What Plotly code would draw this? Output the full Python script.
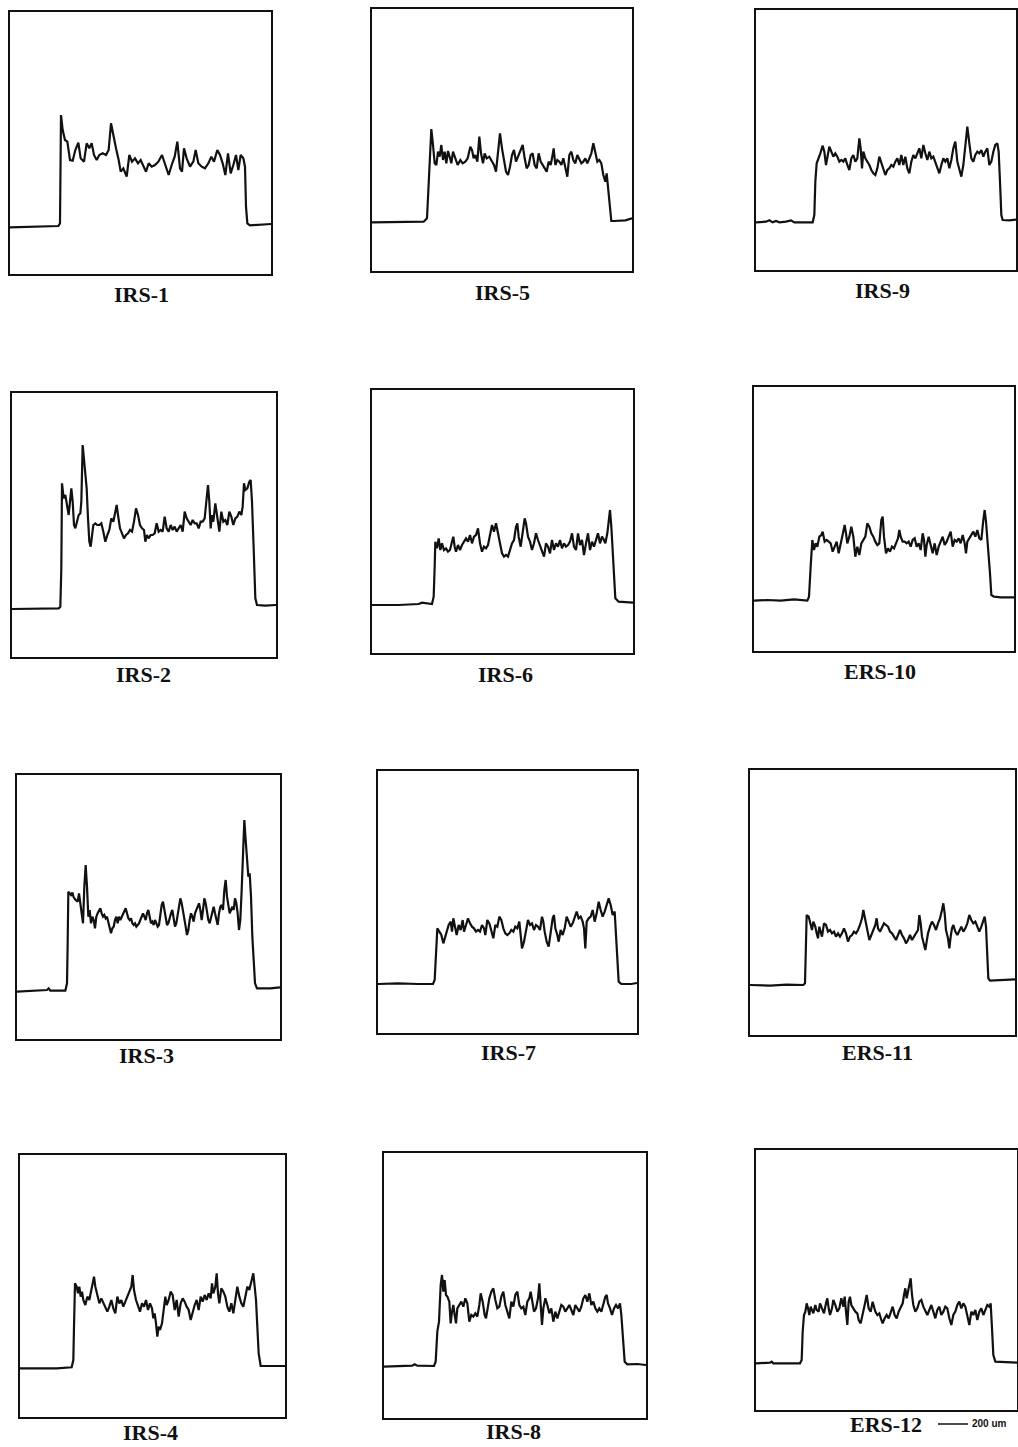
import plotly.graph_objects as go

# ---------------- data: scan profiles (position, intensity) in arbitrary units ----------------
IRS1 = [(0,140),(60,142),(145,144),(150,152),(152,322),(153,477),(158,432),(165,402),(172,397),(180,342),(188,340),(196,372),(205,394),(212,347),(222,337),(230,392),(238,377),(245,392),(252,357),(260,342),(268,357),(278,362),(288,357),(296,372),(303,452),(310,412),(318,377),(326,342),(332,307),(340,317),(350,292),(358,357),(366,337),(375,347),(384,332),(392,342),(400,322),(408,307),(416,332),(425,322),(435,327),(445,337),(456,357),(465,327),(476,297),(485,327),(494,352),(502,397),(510,317),(516,307),(522,377),(530,347),(540,322),(550,337),(557,372),(565,332),(575,322),(585,317),(595,332),(604,352),(612,337),(622,372),(630,357),(638,332),(646,297),(654,362),(662,302),(670,327),(678,357),(685,312),(692,357),(700,347),(705,322),(708,202),(712,152),(720,146),(783,150)]

IRS5 = [(0,146),(80,146),(155,148),(165,158),(168,218),(172,318),(178,426),(183,378),(188,323),(193,318),(198,358),(203,343),(208,378),(213,333),(218,358),(223,323),(228,360),(233,343),(238,323),(243,358),(250,338),(257,318),(265,333),(272,323),(280,328),(287,338),(295,373),(300,363),(305,338),(310,348),(316,328),(322,403),(327,353),(333,323),(338,353),(344,338),(352,343),(360,328),(366,318),(372,298),(378,358),(384,413),(390,368),(396,333),(402,298),(408,288),(414,313),(420,348),(426,363),(432,328),(440,348),(446,358),(452,378),(458,338),(464,308),(470,318),(476,348),(482,353),(488,318),(494,308),(500,353),(506,328),(512,318),(518,308),(524,298),(530,328),(536,318),(540,338),(545,368),(550,318),(556,333),(562,328),(568,318),(574,338),(580,313),(586,283),(592,348),(598,358),(604,333),(610,323),(616,348),(622,333),(628,323),(634,328),(640,338),(646,323),(652,338),(658,353),(664,383),(670,353),(676,328),(682,333),(688,323),(694,288),(700,268),(704,293),(708,253),(712,208),(718,150),(725,150),(760,152),(780,158)]

IRS9 = [(0,143),(30,145),(40,149),(50,143),(60,147),(70,143),(90,145),(105,149),(115,143),(170,143),(175,165),(178,265),(182,320),(188,335),(193,350),(200,373),(205,355),(210,315),(215,345),(220,370),(226,355),(232,340),(238,350),(244,340),(250,325),(256,330),(262,325),(268,335),(274,315),(280,300),(286,335),(292,345),(298,325),(304,335),(310,395),(314,365),(318,305),(322,355),(328,335),(334,325),(340,315),(346,300),(352,290),(358,285),(364,305),(370,340),(376,320),(382,305),(388,285),(394,300),(400,305),(406,315),(412,310),(418,325),(424,335),(430,315),(436,345),(442,315),(448,340),(454,305),(460,290),(466,325),(472,345),(478,335),(484,350),(490,365),(496,335),(502,375),(508,350),(514,330),(520,355),(526,335),(532,340),(538,325),(544,310),(550,290),(556,315),(562,335),(568,325),(574,335),(580,305),(586,330),(592,365),(598,385),(604,325),(610,305),(616,280),(622,315),(628,365),(634,430),(640,380),(646,335),(652,325),(658,345),(664,355),(670,350),(676,360),(682,340),(688,355),(694,365),(700,315),(706,325),(712,355),(718,375),(724,380),(728,355),(732,265),(736,165),(740,150),(760,149),(780,151)]

IRS2 = [(0,144),(80,146),(140,146),(145,151),(148,266),(150,521),(155,476),(160,486),(165,456),(170,426),(174,466),(178,506),(182,466),(186,396),(190,386),(195,411),(200,426),(205,431),(208,466),(212,636),(216,586),(220,536),(224,506),(228,416),(232,346),(236,331),(240,366),(244,396),(250,401),(256,396),(262,396),(268,401),(274,376),(280,346),(286,366),(292,381),(298,416),(304,406),(310,436),(314,456),(318,426),(324,386),(330,371),(336,356),(342,366),(348,371),(354,381),(360,376),(366,406),(372,446),(378,426),(384,396),(390,386),(396,381),(400,346),(405,366),(410,356),(416,366),(422,366),(428,371),(434,401),(440,376),(446,381),(452,376),(458,421),(464,386),(470,376),(476,396),(482,381),(488,391),(494,376),(500,386),(506,396),(512,376),(518,436),(524,416),(530,406),(536,396),(542,411),(548,401),(554,401),(560,386),(566,406),(572,406),(578,416),(584,466),(588,516),(592,466),(596,386),(600,426),(604,406),(610,461),(616,421),(622,376),(628,436),(634,406),(640,411),(646,396),(652,436),(658,421),(664,396),(670,416),(676,421),(682,436),(688,426),(692,451),(696,521),(700,501),(706,506),(712,526),(716,531),(720,466),(725,326),(730,176),(735,156),(760,154),(792,156)]

IRS6 = [(0,144),(80,144),(140,147),(150,151),(180,147),(185,169),(188,259),(190,334),(195,314),(200,344),(205,309),(210,329),(216,309),(222,314),(228,304),(234,309),(240,334),(244,349),(248,319),(252,304),(258,324),(264,309),(270,324),(276,334),(282,344),(288,334),(294,354),(300,329),(306,349),(312,354),(318,374),(324,329),(330,304),(336,319),(342,314),(348,324),(354,359),(360,384),(366,364),(372,389),(378,359),(384,329),(390,299),(396,289),(402,294),(408,289),(414,309),(420,329),(426,339),(432,379),(436,389),(440,349),(446,319),(452,359),(458,404),(462,389),(468,349),(474,334),(480,309),(486,329),(492,359),(498,339),(504,324),(510,309),(516,289),(522,329),(528,319),(534,299),(540,339),(546,309),(552,329),(558,319),(564,339),(570,314),(576,329),(582,319),(588,324),(594,334),(600,359),(606,319),(612,309),(618,359),(624,324),(630,339),(636,294),(642,329),(648,359),(654,309),(660,334),(666,319),(672,339),(678,359),(684,329),(690,349),(696,339),(700,329),(706,359),(710,399),(714,429),(718,379),(722,299),(726,229),(730,164),(740,154),(783,151)]

ERS10 = [(0,151),(40,153),(80,151),(115,153),(120,155),(160,151),(165,163),(170,253),(175,333),(180,303),(185,323),(190,313),(196,343),(202,348),(206,358),(212,328),(218,333),(224,328),(230,323),(236,298),(242,313),(248,328),(254,293),(260,323),(266,343),(272,378),(276,353),(280,323),(286,343),(292,373),(298,343),(304,283),(310,313),(316,288),(322,323),(328,333),(334,343),(340,383),(346,373),(352,353),(358,343),(364,328),(370,318),(376,323),(382,393),(386,403),(390,343),(396,293),(402,308),(408,298),(414,313),(420,308),(426,323),(432,338),(436,363),(440,343),(446,328),(452,328),(458,323),(464,328),(470,313),(476,333),(482,338),(488,313),(494,323),(500,303),(506,353),(510,333),(514,283),(518,318),(524,343),(530,313),(536,293),(542,323),(548,288),(554,313),(560,328),(566,343),(572,318),(578,328),(584,343),(590,358),(596,313),(602,333),(608,328),(614,338),(620,323),(626,348),(632,323),(636,293),(640,328),(646,338),(652,348),(658,358),(664,343),(670,363),(676,338),(682,333),(688,393),(692,423),(696,388),(700,343),(704,283),(708,233),(712,168),(720,163),(740,161),(780,161)]

IRS3 = [(0,142),(50,144),(90,147),(95,152),(100,145),(145,145),(150,167),(152,287),(154,442),(158,437),(162,432),(166,439),(170,425),(176,417),(182,412),(186,437),(190,407),(194,387),(198,347),(202,457),(206,522),(210,457),(214,367),(218,387),(222,347),(226,367),(230,357),(234,332),(238,367),(242,377),(246,387),(250,392),(254,377),(258,367),(262,372),(266,362),(270,367),(274,347),(278,337),(282,317),(286,332),(290,337),(294,357),(298,367),(302,347),(306,367),(310,357),(314,367),(318,377),(322,387),(326,392),(330,377),(334,362),(338,357),(342,362),(346,347),(350,342),(354,347),(358,337),(362,342),(366,347),(370,357),(374,367),(378,377),(382,367),(386,357),(390,377),(394,387),(398,367),(402,347),(406,352),(410,342),(414,357),(418,347),(422,337),(426,342),(430,367),(434,402),(438,412),(442,387),(446,357),(450,342),(454,347),(458,367),(462,377),(466,387),(470,357),(474,337),(478,347),(482,377),(486,397),(490,422),(494,407),(498,387),(502,357),(506,337),(510,312),(514,327),(518,357),(522,377),(526,367),(530,352),(534,377),(538,387),(542,402),(546,407),(550,387),(554,357),(558,387),(562,422),(566,407),(570,377),(574,357),(578,347),(582,367),(586,387),(590,397),(594,377),(598,357),(602,342),(606,377),(610,397),(614,402),(618,387),(622,447),(626,477),(630,427),(634,397),(638,377),(642,387),(646,397),(650,387),(654,422),(658,407),(662,377),(666,327),(670,357),(674,447),(678,547),(682,657),(686,597),(690,527),(694,487),(698,497),(702,427),(706,307),(710,217),(714,167),(720,152),(760,152),(789,155)]

IRS7 = [(0,147),(60,149),(120,147),(165,147),(170,159),(174,244),(178,314),(184,304),(190,294),(196,269),(200,284),(206,304),(212,324),(218,334),(222,304),(226,344),(232,319),(236,294),(242,324),(248,309),(254,339),(258,304),(264,324),(270,344),(276,329),(282,319),(288,314),(294,304),(300,309),(306,304),(312,324),(318,314),(322,294),(328,339),(334,329),(340,304),(346,284),(352,324),(358,319),(364,349),(370,339),(376,314),(382,299),(388,294),(394,299),(400,309),(406,304),(412,319),(418,314),(424,334),(428,294),(432,254),(438,274),(444,304),(450,339),(456,324),(462,329),(468,309),(474,324),(480,319),(486,309),(492,349),(496,334),(500,304),(506,274),(512,259),(518,304),(524,344),(528,354),(532,314),(538,294),(542,274),(548,309),(554,294),(560,314),(566,349),(572,334),(578,319),(584,329),(590,344),(596,364),(602,344),(608,349),(614,334),(618,314),(622,254),(626,334),(632,344),(638,349),(644,369),(650,334),(656,359),(662,394),(668,369),(674,349),(680,364),(686,384),(692,404),(698,384),(704,354),(710,364),(714,304),(718,224),(722,154),(730,147),(760,147),(777,150)]

ERS11 = [(0,150),(60,148),(110,151),(160,150),(165,155),(168,275),(170,360),(176,355),(182,335),(186,315),(190,340),(196,325),(200,305),(204,290),(208,325),(212,305),(216,295),(222,335),(228,330),(234,310),(240,315),(246,305),(252,310),(258,295),(264,305),(270,295),(276,305),(282,320),(288,305),(294,280),(300,295),(306,300),(312,310),(318,305),(324,315),(330,330),(336,350),(340,375),(344,355),(348,340),(352,320),(358,285),(364,300),(370,315),(376,330),(380,350),(384,320),(390,310),(396,325),(402,335),(408,330),(414,325),(420,310),(426,305),(432,295),(438,285),(444,300),(450,315),(456,300),(462,290),(468,275),(474,285),(480,300),(486,285),(492,295),(498,305),(504,315),(508,360),(512,335),(516,295),(522,275),(526,255),(530,280),(534,305),(540,325),(546,340),(552,330),(558,315),(564,335),(570,350),(576,375),(580,395),(584,365),(588,315),(594,290),(598,260),(602,295),(606,320),(610,330),(616,310),(622,300),(628,315),(634,325),(640,310),(646,320),(652,335),(658,360),(664,345),(670,335),(676,340),(682,325),(688,310),(694,325),(700,345),(704,355),(708,325),(712,235),(715,170),(720,163),(760,165),(795,167)]

IRS4 = [(0,146),(60,146),(110,146),(155,149),(160,171),(162,271),(165,401),(170,391),(174,371),(178,391),(182,361),(186,376),(190,351),(196,336),(202,361),(208,351),(214,381),(218,401),(222,421),(226,391),(232,361),(238,341),(244,356),(250,341),(256,331),(262,316),(268,331),(274,351),(280,326),(286,311),(292,361),(298,341),(304,351),(310,331),(316,346),(322,361),(328,371),(334,391),(338,426),(342,381),(348,351),(354,331),(360,316),(366,341),(372,331),(378,351),(384,321),(390,341),(396,326),(400,296),(404,311),(408,281),(412,241),(416,271),(420,261),(426,281),(432,341),(436,361),(440,336),(446,351),(452,376),(458,366),(464,321),(470,351),(476,301),(482,341),(488,356),(494,346),(500,331),(506,321),(512,291),(518,316),(524,336),(530,351),(536,321),(542,361),(548,346),(554,366),(560,351),(566,371),(572,356),(576,401),(580,371),(586,391),(590,431),(594,371),(598,341),(604,386),(610,376),(616,361),(622,331),(628,316),(634,341),(640,311),(646,351),(652,391),(658,361),(664,341),(670,331),(676,361),(682,391),(688,381),(694,411),(700,431),(704,391),(708,351),(712,271),(716,191),(722,153),(760,153),(795,153)]

IRS8 = [(0,154),(50,156),(85,157),(92,161),(100,157),(150,156),(155,169),(160,259),(165,289),(170,399),(174,429),(178,379),(182,414),(186,369),(190,364),(196,349),(200,284),(204,319),(208,339),(212,309),(216,284),(220,329),(226,339),(232,349),(238,334),(244,359),(250,344),(256,289),(262,309),(268,304),(274,314),(280,304),(286,339),(290,374),(296,349),(302,309),(306,299),(310,329),(316,359),(322,379),(328,389),(334,354),(340,329),(346,334),(352,364),(358,379),(364,339),(370,319),(376,299),(382,349),(388,334),(394,369),(400,379),(406,339),(412,329),(418,334),(424,309),(430,349),(436,359),(440,379),(444,349),(450,319),(456,329),(462,359),(466,404),(470,329),(474,279),(478,329),(484,359),(490,339),(496,314),(502,329),(508,289),(514,319),(520,299),(526,319),(532,339),(538,334),(544,319),(550,329),(556,339),(562,324),(568,309),(574,339),(580,329),(586,319),(592,334),(598,359),(604,369),(610,349),(616,374),(622,339),(628,349),(634,329),(640,319),(646,329),(652,319),(658,339),(664,364),(668,369),(672,344),(678,329),(684,309),(690,329),(696,339),(702,329),(708,344),(712,309),(716,239),(722,169),(730,161),(760,162),(786,159)]

ERS12 = [(18,140),(60,142),(65,145),(70,140),(150,140),(155,150),(158,235),(162,285),(166,295),(170,320),(174,305),(178,285),(182,310),(186,300),(190,290),(196,315),(200,300),(206,295),(210,320),(216,305),(222,290),(228,320),(232,335),(236,305),(240,285),(246,305),(250,330),(256,315),(262,295),(268,305),(274,335),(280,310),(284,340),(288,295),(292,255),(296,325),(300,340),(304,315),(310,305),(316,295),(322,290),(326,270),(332,260),(338,285),(344,315),(350,345),(356,305),(362,295),(368,325),(372,310),(376,295),(382,285),(388,290),(394,270),(398,260),(404,275),(410,285),(416,275),(422,290),(428,310),(434,285),(440,275),(446,295),(452,310),(458,320),(462,345),(466,365),(470,335),(474,355),(478,375),(482,395),(486,345),(490,315),(496,295),(502,305),(508,325),(514,330),(520,310),(526,295),(532,285),(538,300),(544,315),(550,295),(556,275),(562,300),(568,310),(574,285),(580,295),(586,310),(592,305),(598,275),(604,255),(610,285),(616,295),(622,315),(628,325),(634,305),(640,320),(646,310),(652,285),(658,255),(664,295),(670,285),(676,300),(682,270),(688,295),(694,305),(700,285),(706,300),(712,315),(718,310),(722,320),(726,245),(730,165),(736,145),(780,143),(804,142)]

LABELS = ["IRS-1", "IRS-5", "IRS-9",
          "IRS-2", "IRS-6", "ERS-10",
          "IRS-3", "IRS-7", "ERS-11",
          "IRS-4", "IRS-8", "ERS-12"]
PROFILES = [IRS1, IRS5, IRS9, IRS2, IRS6, ERS10, IRS3, IRS7, ERS11, IRS4, IRS8, ERS12]
SCALE_TEXT = "200 um"

# ---------------- layout geometry (page pixels) ----------------
W, H = 1018, 1447
BOXES = [(10, 271, 12, 274), (372, 632, 9, 271), (756, 1016, 10, 270),
         (12, 276, 393, 657), (372, 633, 390, 653), (754, 1014, 387, 651),
         (17, 280, 775, 1039), (378, 637, 771, 1033), (750, 1015, 770, 1035),
         (20, 285, 1155, 1417), (384, 646, 1153, 1418), (756, 1017, 1150, 1410)]
XOFF = [0, 0, 0, 0, 0, 0, 0, 0, 0, 0, 0, 18]
LABEL_POS = [(141, 294), (502, 292), (882, 291),
             (143, 674), (505, 674), (880, 671),
             (146, 1055), (508, 1052), (877, 1052),
             (150, 1432), (513, 1431), (886, 1424)]

fig = go.Figure()
annotations = []
for i, (name, prof, box) in enumerate(zip(LABELS, PROFILES, BOXES)):
    L, R, T, B = box
    k = "" if i == 0 else str(i + 1)
    xs = [p[0] for p in prof]
    ys = [p[1] for p in prof]
    fig.add_trace(go.Scatter(x=xs, y=ys, mode="lines",
                             line=dict(color="#111111", width=2.2),
                             xaxis="x" + k, yaxis="y" + k,
                             showlegend=False, hoverinfo="skip"))
    axcommon = dict(showgrid=False, zeroline=False, showticklabels=False,
                    ticks="", showline=True, linecolor="#111111",
                    linewidth=2, mirror=True, fixedrange=True)
    fig.layout["xaxis" + k] = dict(domain=[L / W, R / W],
                                   range=[XOFF[i], XOFF[i] + 3 * (R - L)],
                                   anchor="y" + k, **axcommon)
    fig.layout["yaxis" + k] = dict(domain=[1 - B / H, 1 - T / H],
                                   range=[0, 3 * (B - T)],
                                   anchor="x" + k, **axcommon)
    lx, ly = LABEL_POS[i]
    annotations.append(dict(text="<b>" + name + "</b>", x=lx / W, y=1 - ly / H,
                            xref="paper", yref="paper", showarrow=False,
                            xanchor="center", yanchor="middle",
                            font=dict(family="Liberation Serif", size=22,
                                      color="#111111")))

# scale bar
annotations.append(dict(text="<b>" + SCALE_TEXT + "</b>", x=970 / W, y=1 - 1423 / H,
                        xref="paper", yref="paper", showarrow=False,
                        xanchor="left", yanchor="middle",
                        font=dict(family="Liberation Sans", size=10, color="#111111")))
fig.add_shape(type="line", xref="paper", yref="paper",
              x0=938 / W, x1=968 / W, y0=1 - 1424 / H, y1=1 - 1424 / H,
              line=dict(color="#111111", width=1.5))

fig.update_layout(width=W, height=H, margin=dict(l=0, r=0, t=0, b=0),
                  paper_bgcolor="white", plot_bgcolor="white",
                  annotations=annotations)

fig.write_html("out.html",
               config={"displayModeBar": False, "staticPlot": True},
               post_script="document.body.style.margin='0px';"
                           "document.body.style.padding='0px';"
                           "document.body.style.overflow='hidden';")
